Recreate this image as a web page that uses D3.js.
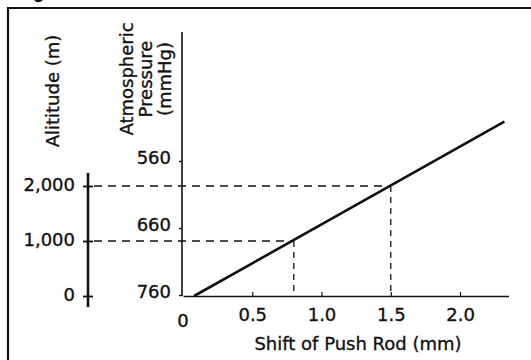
<!DOCTYPE html>
<html>
<head>
<meta charset="utf-8">
<script src="https://cdn.jsdelivr.net/npm/d3@7/dist/d3.min.js"></script>
<style>
  html, body { margin: 0; padding: 0; background: #fff; }
  svg { display: block; }
  text { font-family: "DejaVu Sans", sans-serif; fill: #111; stroke: #111; stroke-width: 0.35px; }
</style>
</head>
<body>
<svg id="chart" width="531" height="360"></svg>
<script>
// ---- data ----
const shiftTicks = [0.5, 1.0, 1.5, 2.0];
const shiftTickLabels = ["0.5", "1.0", "1.5", "2.0"];
const originLabel = "0";
const pressureTicks = [560, 660, 760];
const altitudeTicks = [0, 1000, 2000];
const altitudeTickLabels = ["0", "1,000", "2,000"];
// straight calibration line: shift of push rod (mm) vs altitude (m)
const lineShift = [0.08, 2.32];
const lineAltitude = [0, 3170];
// read-off points marked with dashed guides
const markShift = [0.8, 1.5];
const markAltitude = [1000, 2000];

const xTitle = "Shift of Push Rod (mm)";
const altTitle = "Alititude (m)";
const pressTitle = ["Atmospheric", "Pressure", "(mmHg)"];

// ---- layout ----
const svg = d3.select("#chart");
const x = d3.scaleLinear().domain([0, 2.35]).range([183, 508.5]);
const yAlt = d3.scaleLinear().domain([0, 2000]).range([296, 186]);
const yPress = d3.scaleLinear().domain([760, 560]).range([295, 161]);
const baseY = 296;
const pressX = 182;
const altX = 88;
const fs = 18;

// frame (top and left edges)
svg.append("line").attr("x1", 8).attr("y1", 8).attr("x2", 531).attr("y2", 8)
  .attr("stroke", "#111").attr("stroke-width", 2.2);
svg.append("line").attr("x1", 8).attr("y1", 7).attr("x2", 8).attr("y2", 360)
  .attr("stroke", "#111").attr("stroke-width", 2.2);
// clipped remnant of the figure caption above the frame
svg.append("path").attr("d", "M34,0 Q38,4.5 43,0 Z").attr("fill", "#111");

// ---- x axis ----
const xAxis = svg.append("g").attr("transform", `translate(0,${baseY})`)
  .call(d3.axisBottom(x).tickValues(shiftTicks)
    .tickFormat((d, i) => shiftTickLabels[i])
    .tickSizeInner(-4).tickSizeOuter(0).tickPadding(12));
xAxis.select(".domain").attr("stroke", "#111").attr("stroke-width", 1.6);
xAxis.selectAll(".tick line").attr("stroke", "#111").attr("stroke-width", 1.2);
xAxis.selectAll("text").attr("font-size", fs).attr("font-family", "DejaVu Sans")
  .attr("fill", "#111");

svg.append("text").attr("x", x(0)).attr("y", 321).attr("dy", "0.36em")
  .attr("text-anchor", "middle").attr("font-size", fs).text(originLabel);

svg.append("text").attr("x", 358).attr("y", 350).attr("text-anchor", "middle")
  .attr("font-size", fs).text(xTitle);

// ---- pressure axis ----
svg.append("line").attr("x1", pressX).attr("y1", 32).attr("x2", pressX).attr("y2", baseY)
  .attr("stroke", "#111").attr("stroke-width", 1.6);
const pAxis = svg.append("g").attr("transform", `translate(${pressX},0)`)
  .call(d3.axisLeft(yPress).tickValues(pressureTicks).tickFormat(d3.format("d"))
    .tickSize(3).tickPadding(8));
pAxis.select(".domain").remove();
pAxis.selectAll(".tick line").attr("stroke", "#111").attr("stroke-width", 1.4);
pAxis.selectAll("text").attr("font-size", fs).attr("font-family", "DejaVu Sans")
  .attr("fill", "#111").attr("transform", "translate(0,-3)");

const pt = svg.append("text").attr("transform", "translate(0,79) rotate(-90)")
  .attr("text-anchor", "middle").attr("font-size", fs);
pressTitle.forEach((s, i) => {
  pt.append("tspan").attr("x", 0).attr("y", 133 + i * 19).text(s);
});

// ---- altitude axis ----
svg.append("line").attr("x1", altX).attr("y1", yAlt(2236)).attr("x2", altX).attr("y2", yAlt(-200))
  .attr("stroke", "#111").attr("stroke-width", 2.6);
const aAxis = svg.append("g").attr("transform", `translate(${altX},0)`)
  .call(d3.axisLeft(yAlt).tickValues(altitudeTicks)
    .tickFormat((d, i) => altitudeTickLabels[i]).tickSize(5).tickPadding(8));
aAxis.select(".domain").remove();
aAxis.selectAll(".tick line").attr("x1", -5).attr("x2", 5)
  .attr("stroke", "#111").attr("stroke-width", 1.8);
aAxis.selectAll("text").attr("font-size", fs).attr("font-family", "DejaVu Sans")
  .attr("fill", "#111").attr("transform", "translate(0,-1)");

svg.append("text").attr("transform", "translate(59,91) rotate(-90)")
  .attr("text-anchor", "middle").attr("font-size", fs).text(altTitle);

// ---- dashed guides ----
markShift.forEach((s, i) => {
  const py = yAlt(markAltitude[i]);
  svg.append("line").attr("x1", altX + 6).attr("y1", py).attr("x2", x(s)).attr("y2", py)
    .attr("stroke", "#111").attr("stroke-width", 1.3).attr("stroke-dasharray", "8,6");
  svg.append("line").attr("x1", x(s)).attr("y1", py).attr("x2", x(s)).attr("y2", baseY)
    .attr("stroke", "#111").attr("stroke-width", 1.3).attr("stroke-dasharray", "6,5");
});

// ---- calibration line ----
const lineData = lineShift.map((s, i) => [s, lineAltitude[i]]);
svg.append("path").datum(lineData)
  .attr("d", d3.line().x(d => x(d[0])).y(d => yAlt(d[1])))
  .attr("fill", "none").attr("stroke", "#111").attr("stroke-width", 2.6);
</script>
</body>
</html>
